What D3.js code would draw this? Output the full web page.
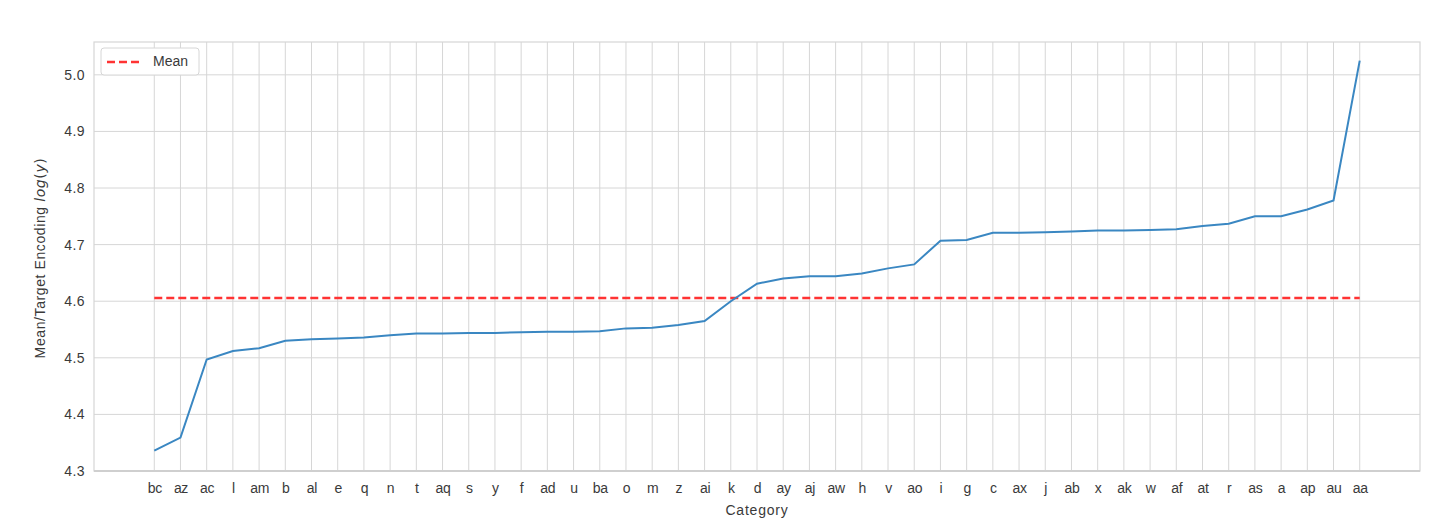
<!DOCTYPE html>
<html><head><meta charset="utf-8">
<script src="https://cdn.jsdelivr.net/npm/d3@7"></script>
<style>body{margin:0;background:#fff;} text{font-family:"Liberation Sans",Arial,sans-serif;}</style>
</head><body>
<svg id="c" width="1447" height="524"></svg>
<script>
const categories = ["bc","az","ac","l","am","b","al","e","q","n","t","aq","s","y","f","ad","u","ba","o","m","z","ai","k","d","ay","aj","aw","h","v","ao","i","g","c","ax","j","ab","x","ak","w","af","at","r","as","a","ap","au","aa"];
const values = [4.336,4.359,4.497,4.512,4.517,4.530,4.533,4.534,4.536,4.540,4.543,4.543,4.544,4.544,4.545,4.546,4.546,4.547,4.552,4.553,4.558,4.565,4.600,4.631,4.640,4.644,4.644,4.649,4.658,4.665,4.707,4.708,4.721,4.721,4.722,4.723,4.725,4.725,4.726,4.727,4.733,4.737,4.750,4.750,4.762,4.778,5.025];
const meanValue = 4.6055;
const yTicks = [4.3,4.4,4.5,4.6,4.7,4.8,4.9,5.0];

const svg = d3.select("#c");
const L=94, R=1420, T=42, B=471;
const x = d3.scalePoint().domain(categories).range([L,R]).padding(2.3);
const y = d3.scaleLinear().domain([4.3, 5.058]).range([B,T]);
const grid="#d6d6d6", txt="#3a3a3a";

// grid
svg.append("g").selectAll("line").data(categories).join("line")
  .attr("x1",d=>x(d)).attr("x2",d=>x(d)).attr("y1",T).attr("y2",B)
  .attr("stroke",grid).attr("stroke-width",1);
svg.append("g").selectAll("line").data(yTicks).join("line")
  .attr("x1",L).attr("x2",R).attr("y1",d=>y(d)).attr("y2",d=>y(d))
  .attr("stroke",grid).attr("stroke-width",1);
svg.append("rect").attr("x",L).attr("y",T).attr("width",R-L).attr("height",B-T)
  .attr("fill","none").attr("stroke",grid).attr("stroke-width",1.2);
svg.append("line").attr("x1",L).attr("x2",R).attr("y1",B).attr("y2",B).attr("stroke","#cfcfcf").attr("stroke-width",2);

// axes
const xa = svg.append("g").attr("transform",`translate(0,${B})`).call(d3.axisBottom(x).tickSize(0).tickPadding(12));
xa.select(".domain").remove();
xa.selectAll("text").attr("fill",txt).style("font-size","14px").style("letter-spacing","-0.3px");
const ya = svg.append("g").attr("transform",`translate(${L},0)`).call(d3.axisLeft(y).tickValues(yTicks).tickFormat(d3.format(".1f")).tickSize(0).tickPadding(9));
ya.select(".domain").remove();
ya.selectAll("text").attr("fill",txt).style("font-size","14px").style("letter-spacing","0.4px");

svg.append("text").attr("x",(L+R)/2).attr("y",515).attr("text-anchor","middle").attr("fill",txt).style("font-size","14px").style("letter-spacing","0.8px").text("Category");
const yl = svg.append("text").attr("transform",`translate(45,${258}) rotate(-90)`).attr("text-anchor","middle").attr("fill",txt).style("font-size","14px").style("letter-spacing","0.6px");
yl.append("tspan").text("Mean/Target Encoding ");
yl.append("tspan").style("font-style","italic").style("font-family","DejaVu Sans, sans-serif").text("log");
yl.append("tspan").style("font-family","DejaVu Sans, sans-serif").text("(");
yl.append("tspan").style("font-style","italic").style("font-family","DejaVu Sans, sans-serif").text("y");
yl.append("tspan").style("font-family","DejaVu Sans, sans-serif").text(")");

// mean line
svg.append("line").attr("x1",x(categories[0])).attr("x2",x(categories[categories.length-1]))
  .attr("y1",y(meanValue)).attr("y2",y(meanValue))
  .attr("stroke","#ff3333").attr("stroke-width",2.5).attr("stroke-dasharray","8,4");

// series line
const line = d3.line().x((d,i)=>x(categories[i])).y(d=>y(d));
svg.append("path").datum(values).attr("d",line).attr("fill","none")
  .attr("stroke","#3a87c2").attr("stroke-width",2);

// legend
const lg = svg.append("g");
lg.append("rect").attr("x",101).attr("y",48).attr("width",98).attr("height",27).attr("rx",3)
  .attr("fill","#fff").attr("stroke","#d6d6d6");
lg.append("line").attr("x1",107).attr("x2",139).attr("y1",62).attr("y2",62)
  .attr("stroke","#ff3333").attr("stroke-width",2.5).attr("stroke-dasharray","8,4");
lg.append("text").attr("x",153).attr("y",66).attr("fill",txt).style("font-size","14px").text("Mean");
</script>
</body></html>
